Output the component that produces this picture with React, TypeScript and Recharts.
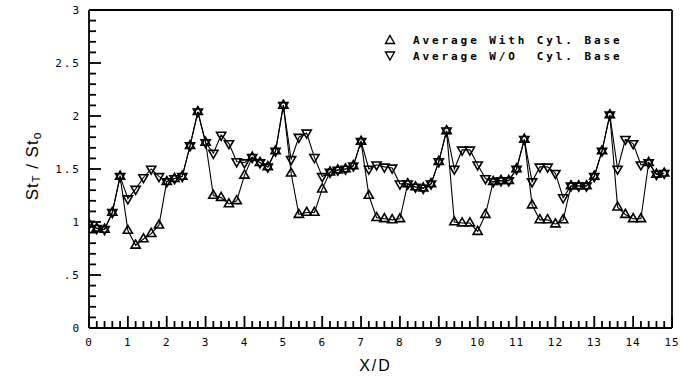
import React from "react";
import { LineChart, Line, XAxis, YAxis, Legend, Label, ReferenceLine } from "recharts";

// X/D stations
const xD = [
  0, 0.2, 0.4, 0.6, 0.8, 1, 1.2, 1.4, 1.6, 1.8,
  2, 2.2, 2.4, 2.6, 2.8, 3, 3.2, 3.4, 3.6, 3.8,
  4, 4.2, 4.4, 4.6, 4.8, 5, 5.2, 5.4, 5.6, 5.8,
  6, 6.2, 6.4, 6.6, 6.8, 7, 7.2, 7.4, 7.6, 7.8,
  8, 8.2, 8.4, 8.6, 8.8, 9, 9.2, 9.4, 9.6, 9.8,
  10, 10.2, 10.4, 10.6, 10.8, 11, 11.2, 11.4, 11.6, 11.8,
  12, 12.2, 12.4, 12.6, 12.8, 13, 13.2, 13.4, 13.6, 13.8,
  14, 14.2, 14.4, 14.6, 14.8,
];

// Average With Cyl. Base (up triangles)
const withCylBase = [
  0.98, 0.94, 0.93, 1.09, 1.43, 0.92, 0.78, 0.84, 0.89, 0.97,
  1.38, 1.41, 1.43, 1.72, 2.04, 1.75, 1.25, 1.23, 1.17, 1.2,
  1.44, 1.61, 1.56, 1.52, 1.67, 2.1, 1.46, 1.07, 1.09, 1.09,
  1.31, 1.47, 1.49, 1.5, 1.53, 1.76, 1.25, 1.04, 1.03, 1.02,
  1.03, 1.36, 1.33, 1.32, 1.36, 1.57, 1.86, 1.0, 0.99, 0.99,
  0.91, 1.07, 1.38, 1.39, 1.39, 1.5, 1.78, 1.16, 1.02, 1.02,
  0.98, 1.02, 1.34, 1.34, 1.34, 1.43, 1.67, 2.01, 1.14, 1.07,
  1.03, 1.03, 1.56, 1.45, 1.46,
];

// Average W/O Cyl. Base (down triangles)
const withoutCylBase = [
  0.98, 0.94, 0.93, 1.09, 1.43, 1.22, 1.31, 1.42, 1.5, 1.43,
  1.38, 1.41, 1.43, 1.72, 2.04, 1.75, 1.65, 1.82, 1.74, 1.57,
  1.56, 1.61, 1.56, 1.52, 1.67, 2.1, 1.59, 1.8, 1.84, 1.61,
  1.43, 1.47, 1.49, 1.5, 1.53, 1.76, 1.5, 1.54, 1.52, 1.51,
  1.36, 1.36, 1.33, 1.32, 1.36, 1.57, 1.86, 1.5, 1.68, 1.68,
  1.54, 1.41, 1.38, 1.39, 1.39, 1.5, 1.78, 1.38, 1.52, 1.52,
  1.46, 1.23, 1.34, 1.34, 1.34, 1.43, 1.67, 2.01, 1.5, 1.78,
  1.74, 1.54, 1.56, 1.45, 1.46,
];

const seriesNames = ["Average With Cyl. Base", "Average W/O  Cyl. Base"];

const xMajorTicks = [0, 1, 2, 3, 4, 5, 6, 7, 8, 9, 10, 11, 12, 13, 14, 15];
const xTickLabels = ["0", "1", "2", "3", "4", "5", "6", "7", "8", "9", "10", "11", "12", "13", "14", "15"];
const yMajorTicks = [0, 0.5, 1, 1.5, 2, 2.5, 3];
const yTickLabels = ["0", ".5", "1", "1.5", "2", "2.5", "3"];

const xAllTicks = Array.from({ length: 76 }, (_, i) => (i * 2) / 10);
const yAllTicks = Array.from({ length: 31 }, (_, i) => i / 10);

const data = xD.map((x, i) => ({ x, withBase: withCylBase[i], woBase: withoutCylBase[i] }));

const INK = "#000";
const MONO = "'DejaVu Sans Mono', 'Liberation Mono', monospace";
const SANS = "'Liberation Sans', Arial, sans-serif";

const XTick = (props: any) => {
  const { x, y, payload } = props;
  const idx = xMajorTicks.indexOf(payload.value);
  const major = idx >= 0;
  return (
    <g>
      <path d={`M${x},${y}V${y - (major ? 12 : 7)}`} stroke={INK} strokeWidth={1.8} />
      {major && (
        <text x={x} y={y + 18} textAnchor="middle" fontFamily={MONO} fontSize={11} letterSpacing={1} fill={INK}>
          {xTickLabels[idx]}
        </text>
      )}
    </g>
  );
};

const YTick = (props: any) => {
  const { x, y, payload } = props;
  const idx = yMajorTicks.indexOf(payload.value);
  const major = idx >= 0;
  return (
    <g>
      <path d={`M${x},${y}H${x + (major ? 12 : 7)}`} stroke={INK} strokeWidth={1.8} />
      {major && (
        <text x={x - 8} y={y + 4} textAnchor="end" fontFamily={MONO} fontSize={11} letterSpacing={2} fill={INK}>
          {yTickLabels[idx]}
        </text>
      )}
    </g>
  );
};

const UpTri = (props: any) => {
  const { cx, cy, index } = props;
  if (cx == null || cy == null) return <g key={`u${index}`} />;
  return (
    <path
      key={`u${index}`}
      d={`M${cx},${cy - 5.2}L${cx + 4.6},${cy + 2.8}L${cx - 4.6},${cy + 2.8}Z`}
      fill="none"
      stroke={INK}
      strokeWidth={1.6}
    />
  );
};

const DownTri = (props: any) => {
  const { cx, cy, index } = props;
  if (cx == null || cy == null) return <g key={`d${index}`} />;
  return (
    <path
      key={`d${index}`}
      d={`M${cx},${cy + 5.2}L${cx + 4.6},${cy - 2.8}L${cx - 4.6},${cy - 2.8}Z`}
      fill="none"
      stroke={INK}
      strokeWidth={1.6}
    />
  );
};

const YTitle = (props: any) => {
  const vb = props.viewBox || {};
  const cx = vb.x + 9;
  const cy = vb.y + vb.height / 2 - 3;
  return (
    <text
      transform={`translate(${cx},${cy}) rotate(-90)`}
      textAnchor="middle"
      fontFamily={SANS}
      fontSize={17}
      letterSpacing={1}
      fill={INK}
    >
      <tspan>St</tspan>
      <tspan fontSize={11} dy={2}>T</tspan>
      <tspan dy={-2}> / St</tspan>
      <tspan fontSize={12} dy={3}>o</tspan>
    </text>
  );
};

const XTitle = (props: any) => {
  const vb = props.viewBox || {};
  return (
    <text
      x={vb.x + vb.width / 2 - 5}
      y={vb.y + 43}
      textAnchor="middle"
      fontFamily={SANS}
      fontSize={16}
      letterSpacing={2}
      fill={INK}
    >
      X/D
    </text>
  );
};

const LegendBox = () => (
  <svg width={260} height={34} style={{ display: "block" }}>
    <path d="M8,3.5L12.5,11.5L3.5,11.5Z" fill="none" stroke={INK} strokeWidth={1.4} />
    <text x={31} y={12} fontFamily={MONO} fontSize={11} fontWeight="bold" letterSpacing={2.9} fill={INK}>
      {seriesNames[0]}
    </text>
    <path d="M8,28L12.5,20L3.5,20Z" fill="none" stroke={INK} strokeWidth={1.4} />
    <text x={31} y={28} fontFamily={MONO} fontSize={11} fontWeight="bold" letterSpacing={2.9} fill={INK} style={{ whiteSpace: "pre" }}>
      {seriesNames[1]}
    </text>
  </svg>
);

const axisStroke = { stroke: INK, strokeWidth: 1.8 };

export default function App() {
  return (
    <div style={{ position: "absolute", left: 0, top: 0, width: 681, height: 377 }}>
      <LineChart
        width={681}
        height={377}
        data={data}
        margin={{ top: 10, right: 9, bottom: 19, left: 29 }}
      >
        <XAxis
          dataKey="x"
          type="number"
          domain={[0, 15]}
          ticks={xAllTicks}
          interval={0}
          height={30}
          tickSize={0}
          tickMargin={0}
          tickLine={false}
          axisLine={axisStroke}
          tick={<XTick />}
          allowDataOverflow
        >
          <Label content={<XTitle />} />
        </XAxis>
        <YAxis
          type="number"
          domain={[0, 3]}
          ticks={yAllTicks}
          interval={0}
          width={60}
          tickSize={0}
          tickMargin={0}
          tickLine={false}
          axisLine={axisStroke}
          tick={<YTick />}
          allowDataOverflow
        >
          <Label content={<YTitle />} />
        </YAxis>
        <ReferenceLine y={3} stroke={INK} strokeWidth={1.8} ifOverflow="visible" />
        <ReferenceLine x={15} stroke={INK} strokeWidth={1.8} ifOverflow="visible" />
        <Legend
          layout="vertical"
          align="center"
          verticalAlign="middle"
          content={<LegendBox />}
          wrapperStyle={{ position: "absolute", left: 382, top: 32, width: 260, height: 34 }}
        />
        <Line
          dataKey="withBase"
          name={seriesNames[0]}
          stroke={INK}
          strokeWidth={1.1}
          dot={UpTri}
          activeDot={false}
          isAnimationActive={false}
          type="linear"
        />
        <Line
          dataKey="woBase"
          name={seriesNames[1]}
          stroke={INK}
          strokeWidth={1.1}
          dot={DownTri}
          activeDot={false}
          isAnimationActive={false}
          type="linear"
        />
      </LineChart>
    </div>
  );
}
